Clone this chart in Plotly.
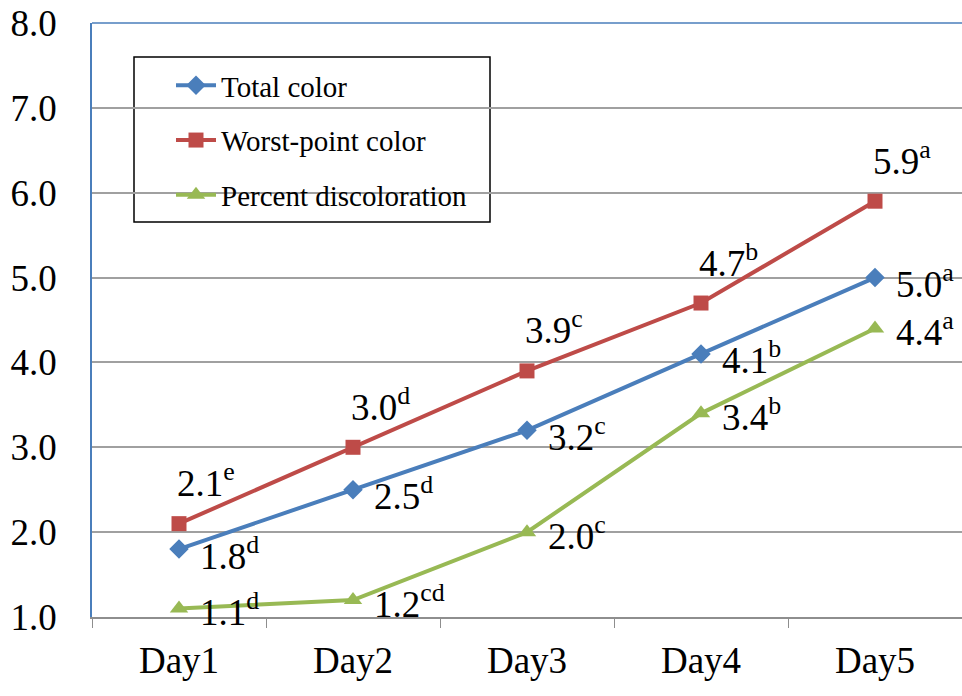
import plotly.graph_objects as go

days = ["Day1", "Day2", "Day3", "Day4", "Day5"]

total_color = [1.8, 2.5, 3.2, 4.1, 5.0]
total_letters = ["d", "d", "c", "b", "a"]

worst_color = [2.1, 3.0, 3.9, 4.7, 5.9]
worst_letters = ["e", "d", "c", "b", "a"]

percent_disc = [1.1, 1.2, 2.0, 3.4, 4.4]
percent_letters = ["d", "cd", "c", "b", "a"]

BLUE = "#4A7EBB"
RED = "#BE4B48"
GREEN = "#98B954"
FONT = "Liberation Serif, Times New Roman, serif"

W, H = 962, 696
ML, MR, MT, MB = 92, 0, 23, 79
PW, PH = W - ML - MR, H - MT - MB


def px_to_paper(x, y):
    return (x - ML) / PW, (H - MB - y) / PH


series = [
    ("Total color", total_color, BLUE, "diamond", 15),
    ("Worst-point color", worst_color, RED, "square", 15),
    ("Percent discoloration", percent_disc, GREEN, "triangle-up", 16),
]

fig = go.Figure()
for i, (name, vals, col, sym, size) in enumerate(series):
    fig.add_trace(go.Scatter(
        x=days, y=vals, name=name, mode="lines+markers",
        line=dict(color=col, width=4),
        marker=dict(symbol=sym, size=size, color=col),
        legendgroup=f"g{i}",
    ))

# value labels with significance letters
label_font = dict(family=FONT, size=37, color="black")


def add_labels(vals, letters, dx, dy):
    for d, v, l in zip(days, vals, letters):
        fig.add_annotation(
            x=d, y=v, xref="x", yref="y",
            text=f"{v:.1f}<sup>{l}</sup>", showarrow=False,
            font=label_font, xanchor="left", yanchor="middle",
            xshift=dx, yshift=dy, borderpad=0,
        )


add_labels(total_color, total_letters, 20, -4)
add_labels(worst_color, worst_letters, -3, 43)
add_labels(percent_disc, percent_letters, 20, -1)

# blue frame line along the top of the plot area
fig.add_shape(type="line", xref="paper", yref="paper", x0=0, x1=1, y0=1, y1=1,
              line=dict(color=BLUE, width=1.5), layer="above")

# legend frame (white box over the gridlines)
bx0, by0 = px_to_paper(134, 222)
bx1, by1 = px_to_paper(490, 57)
fig.add_shape(type="rect", xref="paper", yref="paper",
              x0=bx0, x1=bx1, y0=by0, y1=by1,
              line=dict(color="black", width=1.5), fillcolor="white",
              layer="between")

lx, ly = px_to_paper(171, 60)

fig.update_layout(
    width=W, height=H,
    margin=dict(l=ML, r=MR, t=MT, b=MB),
    paper_bgcolor="white", plot_bgcolor="white",
    showlegend=True,
    legend=dict(
        x=lx, y=ly, xanchor="left", yanchor="top",
        borderwidth=0, bgcolor="rgba(0,0,0,0)",
        font=dict(family=FONT, size=29, color="black"),
        tracegroupgap=14, traceorder="grouped",
        itemwidth=40,
    ),
    xaxis=dict(
        type="category", range=[-0.5, 4.5],
        showline=True, linecolor="#8E8E8E", linewidth=1.5,
        ticks="outside", tickson="boundaries", ticklen=9, tickcolor="#8E8E8E",
        tickfont=dict(family=FONT, size=37, color="black"),
        showgrid=False, zeroline=False, ticklabelstandoff=10,
    ),
    yaxis=dict(
        range=[1, 8], dtick=1, tickformat=".1f",
        showline=True, linecolor=BLUE, linewidth=1.5,
        showgrid=True, gridcolor="#A0A0A0", gridwidth=1.5,
        tickfont=dict(family=FONT, size=37, color="black"),
        ticks="", zeroline=False, ticklabelstandoff=26,
    ),
)

fig.write_html("out.html")
